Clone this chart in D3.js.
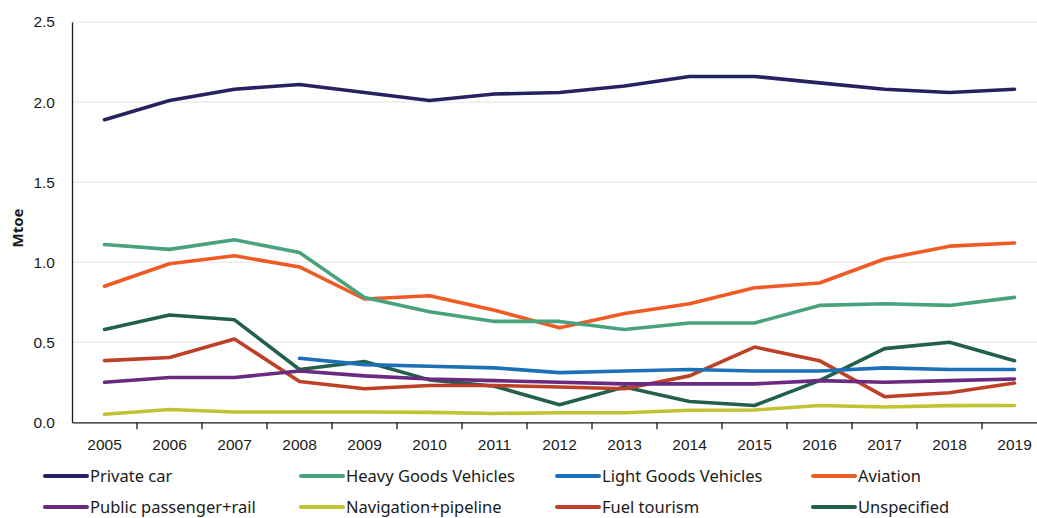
<!DOCTYPE html>
<html>
<head>
<meta charset="utf-8">
<script src="https://cdn.jsdelivr.net/npm/d3@7.9.0/dist/d3.min.js"></script>
<style>
  body { margin: 0; background: #fff; }
  svg { font-family: "Noto Sans", "Open Sans", sans-serif; }
  .tick text { fill: #1a1a1a; }
</style>
</head>
<body>
<div id="chart"></div>
<script>
// Data
const years = ['2005','2006','2007','2008','2009','2010','2011','2012','2013','2014','2015','2016','2017','2018','2019'];
const yTicks = [0, 0.5, 1.0, 1.5, 2.0, 2.5];

const privateCar  = [1.89, 2.01, 2.08, 2.11, 2.06, 2.01, 2.05, 2.06, 2.10, 2.16, 2.16, 2.12, 2.08, 2.06, 2.08];
const heavyGoods  = [1.11, 1.08, 1.14, 1.06, 0.78, 0.69, 0.63, 0.63, 0.58, 0.62, 0.62, 0.73, 0.74, 0.73, 0.78];
const lightGoods  = [null, null, null, 0.40, 0.36, 0.35, 0.34, 0.31, 0.32, 0.33, 0.32, 0.32, 0.34, 0.33, 0.33];
const aviation    = [0.85, 0.99, 1.04, 0.97, 0.77, 0.79, 0.70, 0.59, 0.68, 0.74, 0.84, 0.87, 1.02, 1.10, 1.12];
const publicRail  = [0.25, 0.28, 0.28, 0.32, 0.29, 0.27, 0.26, 0.25, 0.24, 0.24, 0.24, 0.26, 0.25, 0.26, 0.27];
const navigation  = [0.05, 0.08, 0.064, 0.064, 0.064, 0.062, 0.055, 0.06, 0.06, 0.075, 0.077, 0.105, 0.096, 0.104, 0.105];
const fuelTourism = [0.385, 0.405, 0.52, 0.255, 0.21, 0.23, 0.23, 0.22, 0.21, 0.29, 0.47, 0.385, 0.16, 0.185, 0.245];
const unspecified = [0.58, 0.67, 0.64, 0.33, 0.38, 0.265, 0.225, 0.11, 0.22, 0.13, 0.105, 0.26, 0.46, 0.50, 0.385];

const series = [
  { name: 'Private car',           values: privateCar,  color: '#262262' },
  { name: 'Heavy Goods Vehicles',  values: heavyGoods,  color: '#48a27c' },
  { name: 'Light Goods Vehicles',  values: lightGoods,  color: '#1c70b8' },
  { name: 'Aviation',              values: aviation,    color: '#f05a24' },
  { name: 'Public passenger+rail', values: publicRail,  color: '#6a2a80' },
  { name: 'Navigation+pipeline',   values: navigation,  color: '#c3c232' },
  { name: 'Fuel tourism',          values: fuelTourism, color: '#be4127' },
  { name: 'Unspecified',           values: unspecified, color: '#22604a' },
];

const width = 1037, height = 518;
const margin = { top: 22, bottom: 422.3, left: 72 };

const svg = d3.select('#chart').append('svg')
  .attr('width', width)
  .attr('height', height);

const x = d3.scaleBand()
  .domain(years)
  .range([margin.left, margin.left + 65 * years.length]);

const y = d3.scaleLinear()
  .domain([0, 2.5])
  .range([margin.bottom, margin.top]);

// gridlines
svg.append('g')
  .attr('class', 'grid')
  .selectAll('line')
  .data(yTicks.filter(d => d > 0))
  .join('line')
  .attr('x1', margin.left)
  .attr('x2', width)
  .attr('y1', d => y(d))
  .attr('y2', d => y(d))
  .attr('stroke', '#e3e3e3')
  .attr('stroke-width', 1);

// y axis
const yAxis = svg.append('g')
  .attr('transform', `translate(${margin.left},0)`)
  .call(d3.axisLeft(y).tickValues(yTicks).tickFormat(d3.format('.1f')).tickSize(0).tickPadding(17));
yAxis.select('.domain').attr('stroke', '#1a1a1a').attr('stroke-width', 1.3);
yAxis.selectAll('text').attr('font-size', 15.5);

// x axis
const xAxis = svg.append('g')
  .attr('transform', `translate(0,${y(0)})`)
  .call(d3.axisBottom(x).tickSize(0).tickPadding(17));
xAxis.select('.domain').attr('stroke', '#1a1a1a').attr('stroke-width', 1.3);
xAxis.selectAll('text').attr('font-size', 15.5);

// tick marks between categories
xAxis.selectAll('line.sep')
  .data(years.slice(1))
  .join('line')
  .attr('class', 'sep')
  .attr('x1', d => x(d))
  .attr('x2', d => x(d))
  .attr('y1', 0)
  .attr('y2', 7)
  .attr('stroke', '#1a1a1a')
  .attr('stroke-width', 1.3);

// axis title
svg.append('text')
  .attr('transform', `translate(23,228) rotate(-90)`)
  .attr('text-anchor', 'middle')
  .attr('font-size', 15)
  .attr('font-weight', 'bold')
  .attr('fill', '#1a1a1a')
  .text('Mtoe');

// lines
const line = d3.line()
  .defined(d => d != null)
  .x((d, i) => x(years[i]) + x.bandwidth() / 2)
  .y(d => y(d));

// draw in reverse so Private car ends up on top
svg.append('g')
  .selectAll('path')
  .data(series.slice().reverse())
  .join('path')
  .attr('d', d => line(d.values))
  .attr('fill', 'none')
  .attr('stroke', d => d.color)
  .attr('stroke-width', 3.6)
  .attr('stroke-linecap', 'round')
  .attr('stroke-linejoin', 'round');

// legend
const legend = svg.append('g').attr('class', 'legend');
const items = legend.selectAll('g')
  .data(series)
  .join('g')
  .attr('transform', (d, i) => `translate(${45 + (i % 4) * 256},${476 + Math.floor(i / 4) * 31})`);

items.append('line')
  .attr('x1', 0).attr('x2', 42)
  .attr('stroke', d => d.color)
  .attr('stroke-width', 4)
  .attr('stroke-linecap', 'round');

items.append('text')
  .attr('x', 45)
  .attr('dy', '0.35em')
  .attr('font-size', 16.5)
  .attr('fill', '#1a1a1a')
  .text(d => d.name);
</script>
</body>
</html>
